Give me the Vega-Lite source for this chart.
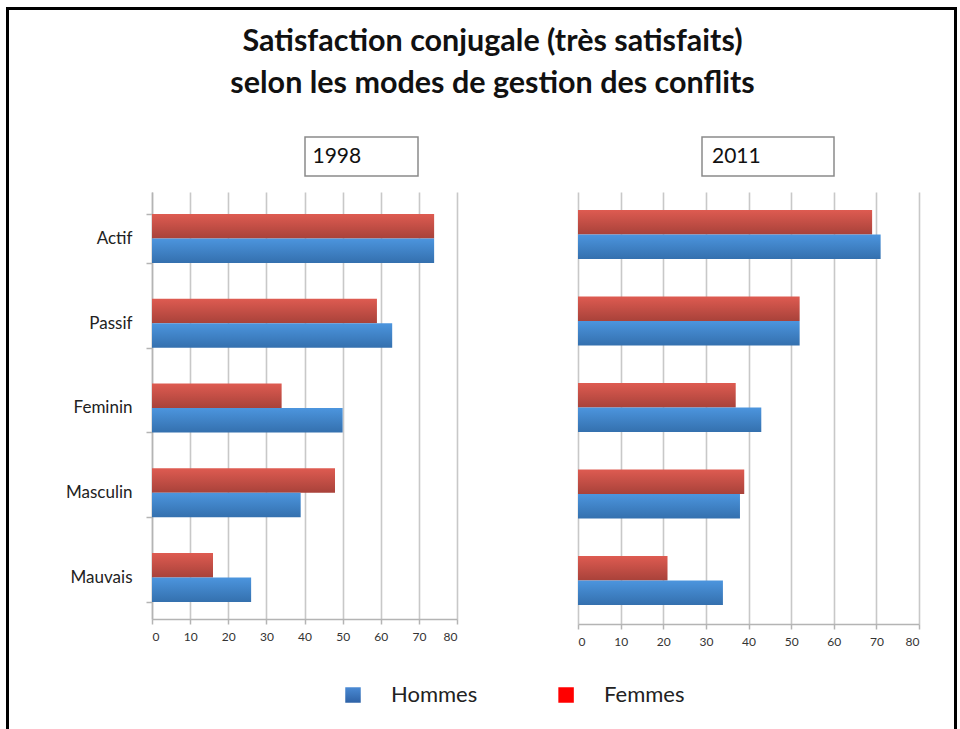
{
  "$schema": "https://vega.github.io/schema/vega-lite/v6.json",
  "padding": {"left": 6, "top": 7, "right": 0, "bottom": 0},
  "background": "white",
  "config": {
    "view": {"stroke": null},
    "concat": {"spacing": 0},
    "font": "Lato"
  },
  "datasets": {
    "valeurs": [
      {"annee": "1998", "mode": "Actif", "sexe": "Femmes", "valeur": 74},
      {"annee": "1998", "mode": "Actif", "sexe": "Hommes", "valeur": 74},
      {"annee": "1998", "mode": "Passif", "sexe": "Femmes", "valeur": 59},
      {"annee": "1998", "mode": "Passif", "sexe": "Hommes", "valeur": 63},
      {"annee": "1998", "mode": "Feminin", "sexe": "Femmes", "valeur": 34},
      {"annee": "1998", "mode": "Feminin", "sexe": "Hommes", "valeur": 50},
      {"annee": "1998", "mode": "Masculin", "sexe": "Femmes", "valeur": 48},
      {"annee": "1998", "mode": "Masculin", "sexe": "Hommes", "valeur": 39},
      {"annee": "1998", "mode": "Mauvais", "sexe": "Femmes", "valeur": 16},
      {"annee": "1998", "mode": "Mauvais", "sexe": "Hommes", "valeur": 26},
      {"annee": "2011", "mode": "Actif", "sexe": "Femmes", "valeur": 69},
      {"annee": "2011", "mode": "Actif", "sexe": "Hommes", "valeur": 71},
      {"annee": "2011", "mode": "Passif", "sexe": "Femmes", "valeur": 52},
      {"annee": "2011", "mode": "Passif", "sexe": "Hommes", "valeur": 52},
      {"annee": "2011", "mode": "Feminin", "sexe": "Femmes", "valeur": 37},
      {"annee": "2011", "mode": "Feminin", "sexe": "Hommes", "valeur": 43},
      {"annee": "2011", "mode": "Masculin", "sexe": "Femmes", "valeur": 39},
      {"annee": "2011", "mode": "Masculin", "sexe": "Hommes", "valeur": 38},
      {"annee": "2011", "mode": "Mauvais", "sexe": "Femmes", "valeur": 21},
      {"annee": "2011", "mode": "Mauvais", "sexe": "Hommes", "valeur": 34}
    ]
  },
  "bounds": "full",
  "spacing": 0,
  "hconcat": [
    {"width": 3, "height": 760, "view": {"fill": "black", "stroke": null}, "data": {"values": []}, "mark": "point"},
    {
      "bounds": "full",
      "spacing": 0,
      "vconcat": [
        {"width": 945, "height": 3, "view": {"fill": "black", "stroke": null}, "data": {"values": []}, "mark": "point"},
        {
          "width": 945,
          "height": 126,
          "data": {"values": [
            {"ligne": "Satisfaction conjugale (très satisfaits)"},
            {"ligne": "selon les modes de gestion des conflits"}
          ]},
          "mark": {"type": "text", "font": "Lato", "fontWeight": "bold", "fontSize": 30.5, "color": "#111111", "baseline": "middle", "align": "center", "dx": 11},
          "encoding": {
            "text": {"field": "ligne"},
            "y": {"field": "ligne", "type": "ordinal", "axis": null,
                  "sort": ["Satisfaction conjugale (très satisfaits)", "selon les modes de gestion des conflits"],
                  "scale": {"padding": 1.3, "align": 0.3846}}
          }
        },
        {
          "bounds": "flush",
          "spacing": 0,
          "hconcat": [
            {"width": 296, "height": 39, "data": {"values": []}, "mark": "point"},
            {
              "width": 113,
              "height": 39,
              "view": {"stroke": "#8a8a8a", "strokeWidth": 1.5, "fill": "white"},
              "data": {"values": [{"annee": "1998"}]},
              "mark": {"type": "text", "font": "Lato", "fontSize": 21, "color": "#111111", "align": "left", "baseline": "middle", "dx": -49},
              "encoding": {"text": {"field": "annee"}}
            },
            {"width": 284, "height": 39, "data": {"values": []}, "mark": "point"},
            {
              "width": 132,
              "height": 39,
              "view": {"stroke": "#8a8a8a", "strokeWidth": 1.5, "fill": "white"},
              "data": {"values": [{"annee": "2011"}]},
              "mark": {"type": "text", "font": "Lato", "fontSize": 21, "color": "#111111", "align": "left", "baseline": "middle", "dx": -56},
              "encoding": {"text": {"field": "annee"}}
            },
            {"width": 120, "height": 39, "data": {"values": []}, "mark": "point"}
          ]
        },
        {"width": 945, "height": 6, "data": {"values": []}, "mark": "point"},
        {
          "bounds": "flush",
          "spacing": 0,
          "hconcat": [
            {"width": 143, "height": 460, "data": {"values": []}, "mark": "point"},
            {
              "width": 305,
              "height": 427,
              "data": {"name": "valeurs"},
              "transform": [{"filter": "datum.annee === '1998'"}],
              "mark": {"type": "bar"},
              "encoding": {
                "y": {
                  "field": "mode", "type": "nominal",
                  "sort": ["Actif", "Passif", "Feminin", "Masculin", "Mauvais"],
                  "scale": {"paddingInner": 0.422, "paddingOuter": 0.23, "align": 0.564},
                  "axis": {"title": null, "tickBand": "extent", "domainColor": "#b4b4b4", "domainWidth": 1.5,
                           "tickColor": "#b4b4b4", "tickWidth": 1.5, "tickSize": 6, "labelFontSize": 17,
                           "labelPadding": 14, "labelColor": "#222222", "labelFont": "Lato"}
                },
                "yOffset": {"field": "sexe", "sort": ["Femmes", "Hommes"]},
                "x": {
                  "field": "valeur", "type": "quantitative",
                  "scale": {"domain": [0, 80], "nice": false},
                  "axis": {"title": null, "values": [0, 10, 20, 30, 40, 50, 60, 70, 80], "grid": true,
                           "gridColor": "#c8c8c8", "gridWidth": 1.6, "domainColor": "#b4b4b4", "domainWidth": 1.5,
                           "tickColor": "#b4b4b4", "tickWidth": 1.5, "tickSize": 5, "labelFontSize": 12,
                           "labelColor": "#333333", "labelPadding": 7, "labelFont": "Lato"}
                },
                "fill": {
                  "condition": {
                    "test": "datum.sexe === 'Femmes'",
                    "value": {"gradient": "linear", "x1": 0, "y1": 0, "x2": 0, "y2": 1,
                              "stops": [{"offset": 0, "color": "#de5b51"}, {"offset": 1, "color": "#a8423a"}]}
                  },
                  "value": {"gradient": "linear", "x1": 0, "y1": 0, "x2": 0, "y2": 1,
                            "stops": [{"offset": 0, "color": "#4c95de"}, {"offset": 1, "color": "#3470ae"}]}
                }
              }
            },
            {"width": 121, "height": 460, "data": {"values": []}, "mark": "point"},
            {
              "width": 341,
              "height": 432,
              "data": {"name": "valeurs"},
              "transform": [{"filter": "datum.annee === '2011'"}],
              "mark": {"type": "bar"},
              "encoding": {
                "y": {
                  "field": "mode", "type": "nominal",
                  "sort": ["Actif", "Passif", "Feminin", "Masculin", "Mauvais"],
                  "scale": {"paddingInner": 0.422, "paddingOuter": 0.208, "align": 0.5},
                  "axis": null
                },
                "yOffset": {"field": "sexe", "sort": ["Femmes", "Hommes"]},
                "x": {
                  "field": "valeur", "type": "quantitative",
                  "scale": {"domain": [0, 80], "nice": false},
                  "axis": {"title": null, "values": [0, 10, 20, 30, 40, 50, 60, 70, 80], "grid": true,
                           "gridColor": "#c8c8c8", "gridWidth": 1.6, "domainColor": "#b4b4b4", "domainWidth": 1.5,
                           "tickColor": "#b4b4b4", "tickWidth": 1.5, "tickSize": 5, "labelFontSize": 12,
                           "labelColor": "#333333", "labelPadding": 7, "labelFont": "Lato"}
                },
                "fill": {
                  "condition": {
                    "test": "datum.sexe === 'Femmes'",
                    "value": {"gradient": "linear", "x1": 0, "y1": 0, "x2": 0, "y2": 1,
                              "stops": [{"offset": 0, "color": "#de5b51"}, {"offset": 1, "color": "#a8423a"}]}
                  },
                  "value": {"gradient": "linear", "x1": 0, "y1": 0, "x2": 0, "y2": 1,
                            "stops": [{"offset": 0, "color": "#4c95de"}, {"offset": 1, "color": "#3470ae"}]}
                }
              }
            },
            {"width": 35, "height": 460, "data": {"values": []}, "mark": "point"}
          ]
        },
        {
          "bounds": "flush",
          "spacing": 0,
          "hconcat": [
            {"width": 344, "height": 86, "data": {"values": []}, "mark": "point"},
            {
              "width": 430,
              "height": 86,
              "data": {"values": [{"sexe": "Hommes"}, {"sexe": "Femmes"}]},
              "encoding": {
                "x": {"field": "sexe", "type": "nominal", "sort": ["Hommes", "Femmes"],
                      "scale": {"type": "point", "padding": 0.509, "align": 0}, "axis": null}
              },
              "layer": [
                {
                  "mark": {"type": "square", "size": 240, "opacity": 1},
                  "encoding": {
                    "fill": {
                      "condition": {"test": "datum.sexe === 'Femmes'", "value": "#ff0000"},
                      "value": {"gradient": "linear", "x1": 0, "y1": 0, "x2": 0, "y2": 1,
                                "stops": [{"offset": 0, "color": "#4a8ad4"}, {"offset": 1, "color": "#2e62a6"}]}
                    }
                  }
                },
                {
                  "mark": {"type": "text", "font": "Lato", "fontSize": 22, "color": "#222222", "align": "left", "baseline": "middle", "dx": 38},
                  "encoding": {"text": {"field": "sexe"}}
                }
              ]
            },
            {"width": 171, "height": 86, "data": {"values": []}, "mark": "point"}
          ]
        }
      ]
    },
    {"width": 3, "height": 760, "view": {"fill": "black", "stroke": null}, "data": {"values": []}, "mark": "point"}
  ]
}
